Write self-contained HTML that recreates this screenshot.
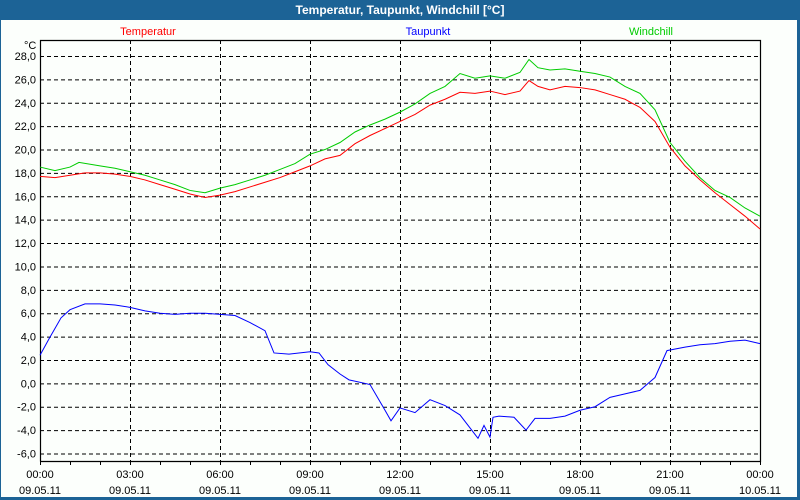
<!DOCTYPE html>
<html><head><meta charset="utf-8"><style>
body{margin:0;background:#fff;}
#wrap{position:relative;width:800px;height:500px;background:#1c6396;overflow:hidden;font-family:"Liberation Sans",sans-serif;}
#inner{position:absolute;left:1px;top:20px;width:796px;height:477px;background:#fcfffc;}
#title{position:absolute;left:0;top:0;width:800px;height:20px;line-height:20px;text-align:center;color:#fff;font-weight:bold;font-size:12px;}
svg{position:absolute;left:0;top:0;}
text{font-family:"Liberation Sans",sans-serif;font-size:11px;}
</style></head><body>
<div id="wrap">
<div id="inner"></div>
<div id="title">Temperatur, Taupunkt, Windchill [°C]</div>
<svg id="chart" width="800" height="500"></svg>
</div>
<script>
const yTicks=[28,26,24,22,20,18,16,14,12,10,8,6,4,2,0,-2,-4,-6];
const xTickHours=[0,3,6,9,12,15,18,21,24];
const xTimeLabels=["00:00","03:00","06:00","09:00","12:00","15:00","18:00","21:00","00:00"];
const xDateLabels=["09.05.11","09.05.11","09.05.11","09.05.11","09.05.11","09.05.11","09.05.11","09.05.11","10.05.11"];
const tempHours=[0,0.5,1,1.5,2,2.5,3,3.5,4,4.5,5,5.5,6,6.5,7,7.5,8,8.5,9,9.5,10,10.5,11,11.5,12,12.5,13,13.5,14,14.5,15,15.5,16,16.3,16.6,17,17.5,18,18.5,19,19.5,20,20.5,21,21.5,22,22.5,23,23.5,24];
const tempValues=[17.7,17.6,17.8,18.0,18.0,17.9,17.7,17.4,17.0,16.6,16.2,15.9,16.1,16.4,16.8,17.2,17.6,18.1,18.6,19.2,19.5,20.5,21.2,21.8,22.4,23.0,23.8,24.3,24.9,24.8,25.0,24.7,25.0,25.9,25.4,25.1,25.4,25.3,25.1,24.7,24.3,23.6,22.4,20.2,18.6,17.4,16.3,15.3,14.3,13.2];
const windHours=[0,0.5,1,1.3,2,2.5,3,3.5,4,4.5,5,5.5,6,6.5,7,7.5,8,8.5,9,9.5,10,10.5,11,11.5,12,12.5,13,13.5,14,14.5,15,15.5,16,16.3,16.6,17,17.5,18,18.5,19,19.5,20,20.5,21,21.5,22,22.5,23,23.5,24];
const windValues=[18.5,18.2,18.5,18.9,18.6,18.4,18.1,17.8,17.4,17.0,16.5,16.3,16.7,17.0,17.4,17.8,18.3,18.8,19.6,20.0,20.6,21.5,22.1,22.6,23.2,23.9,24.8,25.4,26.5,26.1,26.3,26.1,26.6,27.7,27.0,26.8,26.9,26.7,26.5,26.2,25.4,24.8,23.4,20.6,19.0,17.6,16.5,15.9,15.0,14.3];
const dewHours=[0,0.3,0.7,1,1.5,2,2.5,3,3.5,4,4.5,5,5.5,6,6.5,7,7.5,7.8,8.3,9,9.3,9.6,10,10.3,11,11.5,11.7,12,12.5,13,13.5,14,14.6,14.8,15,15.1,15.3,15.8,16.2,16.5,17,17.5,18,18.5,19,19.5,20,20.5,20.9,21.5,22,22.5,23,23.5,24];
const dewValues=[2.4,3.8,5.6,6.3,6.8,6.8,6.7,6.5,6.2,6.0,5.9,6.0,6.0,5.9,5.8,5.2,4.5,2.6,2.5,2.7,2.6,1.6,0.8,0.3,-0.1,-2.3,-3.2,-2.1,-2.5,-1.4,-1.9,-2.7,-4.7,-3.6,-4.6,-2.9,-2.8,-2.9,-4.0,-3.0,-3.0,-2.8,-2.3,-2.0,-1.2,-0.9,-0.6,0.5,2.8,3.1,3.3,3.4,3.6,3.7,3.4];

const X0=40,X1=760,Y0=40,Y1=461;
const xs=h=>X0+(X1-X0)*h/24;
const ys=v=>56+(28-v)*(453.5-56)/34;
const NS="http://www.w3.org/2000/svg";
const svg=document.getElementById('chart');
function mk(tag,attrs){const e=document.createElementNS(NS,tag);for(const k in attrs)e.setAttribute(k,attrs[k]);svg.appendChild(e);return e;}

yTicks.forEach(v=>{
  const g=mk('line',{x1:X0,x2:X1,y1:ys(v)+0.5,y2:ys(v)+0.5,stroke:'#000','stroke-dasharray':'4,3','stroke-width':1});
  
  
  const t=mk('text',{x:36,y:ys(v)+4,'text-anchor':'end',fill:'#000'});t.textContent=v.toFixed(1).replace('.',',');
  
  
});
xTickHours.forEach((h,i)=>{
  if(h>0&&h<24){const g=mk('line',{x1:xs(h)+0.5,x2:xs(h)+0.5,y1:Y0,y2:Y1,stroke:'#000','stroke-dasharray':'4,3'});
  
  }
  const t=mk('text',{x:xs(h),y:478,'text-anchor':'middle',fill:'#000'});t.textContent=xTimeLabels[i];
  
  
  const d=mk('text',{x:xs(h),y:494,'text-anchor':'middle',fill:'#000'});d.textContent=xDateLabels[i];
  
  
});
for(let h=0;h<=24;h++){const t=mk('line',{x1:xs(h)+0.5,x2:xs(h)+0.5,y1:Y1,y2:Y1+4,stroke:'#000'});
  
  }
const frame=mk('path',{d:`M${X0+0.5},${Y1+0.5}V${Y0+0.5}H${X1+0.5}V${Y1+0.5}H${X0+0.5}`,fill:'none',stroke:'#000','stroke-width':1.2});


const unit=mk('text',{x:24,y:49,fill:'#000'});unit.textContent='°C';



function series(hs,vs,col,name){
  const p=mk('polyline',{points:hs.map((h,i)=>xs(h)+','+ys(vs[i])).join(' '),fill:'none',stroke:col,'stroke-width':1});
  
  
}
series(windHours,windValues,'#00cc00','windchill-line');
series(tempHours,tempValues,'#ff0000','temperatur-line');
series(dewHours,dewValues,'#0000ff','taupunkt-line');

[['Temperatur',148,'#ff0000','legend-temperatur'],['Taupunkt',428,'#0000ff','legend-taupunkt'],['Windchill',651,'#00cc00','legend-windchill']].forEach(l=>{
  const t=mk('text',{x:l[1],y:35,'text-anchor':'middle',fill:l[2]});t.textContent=l[0];
  
  
});
</script>
</body></html>
